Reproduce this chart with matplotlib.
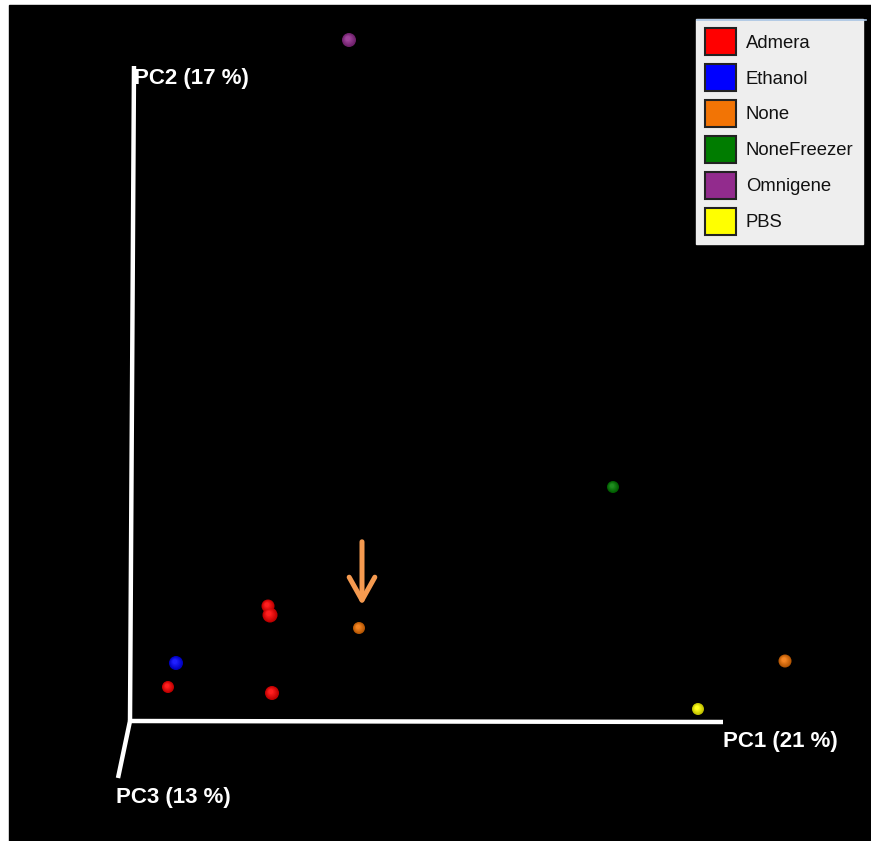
import matplotlib
matplotlib.use("Agg")
import matplotlib.pyplot as plt
from matplotlib.patches import Patch, Rectangle
import numpy as np

# group names and colours
groups = ["Admera", "Ethanol", "None", "NoneFreezer", "Omnigene", "PBS"]
colors = ["#ff0000", "#0000ff", "#f27405", "#007c00", "#922b8d", "#ffff00"]

# projected sample positions (screen coords of the 3D view)
sample_group = ["Omnigene", "NoneFreezer", "Admera", "Admera", "None",
                "Ethanol", "None", "Admera", "Admera", "PBS"]
sample_x = [349, 613, 268, 270, 359, 176, 785, 168, 272, 698]
sample_y = [40, 487, 606, 615, 628, 663, 661, 687, 693, 709]
sample_r = [7, 6, 6.5, 7.5, 6, 7, 6.5, 6, 7, 6]

# axis ends
origin = (130, 721)
pc1_end = (723, 722)
pc2_end = (134, 66)
pc3_end = (118, 778)
axis_labels = ["PC1 (21 %)", "PC2 (17 %)", "PC3 (13 %)"]

W, H = 871, 841
fig = plt.figure(figsize=(W / 100, H / 100), dpi=100, facecolor="white")
ax = fig.add_axes([0, 0, 1, 1])
ax.set_xlim(0, W)
ax.set_ylim(H, 0)
ax.axis("off")

# black canvas
ax.add_patch(Rectangle((9, 5), W - 9, H - 5, color="black", zorder=0))

# axes of the ordination
for end in (pc1_end, pc2_end, pc3_end):
    ax.plot([origin[0], end[0]], [origin[1], end[1]], color="white",
            lw=3.2, solid_capstyle="butt", zorder=2)

font = dict(color="white", fontsize=16, fontweight="bold",
            family="Liberation Sans")
ax.text(723, 742, axis_labels[0], ha="left", va="center", **font)
ax.text(134, 78, axis_labels[1], ha="left", va="center", **font)
ax.text(116, 797, axis_labels[2], ha="left", va="center", **font)

# spheres: base disc + soft highlight
cmap = dict(zip(groups, colors))
for g, x, y, r in zip(sample_group, sample_x, sample_y, sample_r):
    c = np.array(matplotlib.colors.to_rgb(cmap[g]))
    for k, f in enumerate(np.linspace(1.0, 0.35, 6)):
        shade = c * (0.75 + 0.25 * k / 5) + (1 - c) * 0.12 * k / 5
        rr = r * f
        ax.add_patch(plt.Circle((x - (r - rr) * 0.25, y - (r - rr) * 0.3), rr,
                                color=np.clip(shade, 0, 1), lw=0, zorder=3 + k * 0.01))

# arrow pointing at the first "None" sample
ax.annotate("", xy=(362, 608), xytext=(362, 539),
            arrowprops=dict(arrowstyle="->,head_length=0.75,head_width=0.42",
                            color="#f59a50", lw=3.6, mutation_scale=22), zorder=5)

# legend
handles = [Patch(facecolor=c, edgecolor="#222222", lw=1.5, label=g)
           for g, c in zip(groups, colors)]
leg = ax.legend(handles=handles, loc="upper left",
                bbox_to_anchor=(696 / W, 1 - 19 / H), bbox_transform=fig.transFigure,
                frameon=True, fancybox=False, framealpha=1,
                facecolor="#eeeeee", edgecolor="#eeeeee",
                handlelength=1.65, handleheight=1.85, labelspacing=0.5,
                handletextpad=0.55, borderpad=0.5, borderaxespad=0,
                prop=dict(family="Liberation Sans", size=13.3))
for t in leg.get_texts():
    t.set_color("#111111")
leg.set_zorder(6)
# thin blue rim along the top of the legend box
ax.plot([697, 866], [20, 20], color="#a9c4e4", lw=1.2, zorder=7)

fig.savefig("out.png", dpi=100, facecolor="white")
